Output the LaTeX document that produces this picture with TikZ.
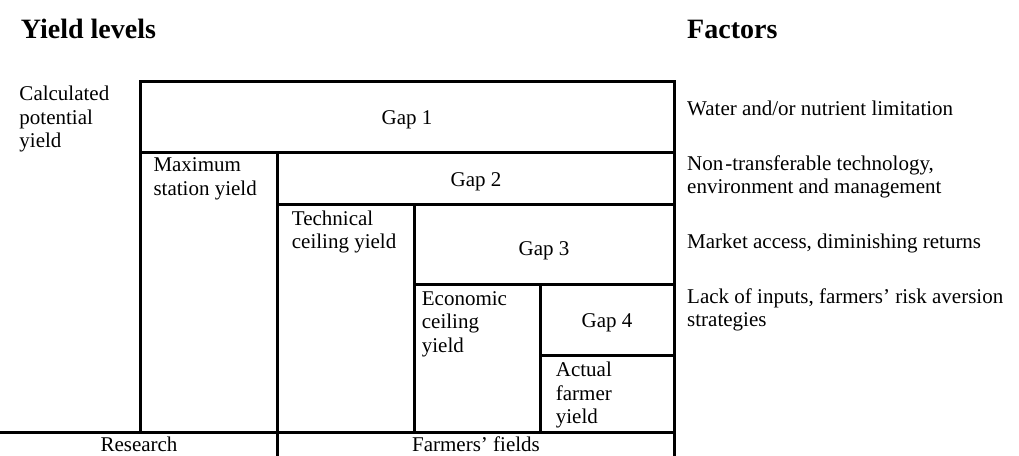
\documentclass[tikz,border=0pt]{standalone}
\usepackage{fontspec}
\setmainfont{Liberation Serif}
\newcommand{\mlines}[1]{\begin{tabular}[t]{@{}l@{}}#1\end{tabular}}
\begin{document}
\begin{tikzpicture}[x=1pt,y=-1pt,
  frame/.style={line width=3pt,line join=miter,line cap=rect},
  body/.style={inner sep=0pt,font=\fontsize{21}{23.5}\selectfont},
  lbl/.style={body,anchor=base west},
  gap/.style={body,anchor=base},
  title/.style={inner sep=0pt,anchor=base west,font=\fontsize{28}{32}\selectfont\bfseries}]
\useasboundingbox (0,0) rectangle (1019,455);
% frame
\draw[frame] (140,432) -- (140,81) -- (674,81) -- (674,455);
\draw[frame] (140,152) -- (674,152);
\draw[frame] (277.5,152) -- (277.5,455);
\draw[frame] (277.5,204.5) -- (674,204.5);
\draw[frame] (414,204.5) -- (414,432);
\draw[frame] (414,284.5) -- (674,284.5);
\draw[frame] (540.5,284.5) -- (540.5,432);
\draw[frame] (540.5,355.5) -- (674,355.5);
\draw[frame] (0,432) -- (674,432);
% titles
\node[title] (t1) at (20.7,38) {Yield levels};
\node[title] (t2) at (687,38) {Factors};
% yield levels
\node[lbl] (cpy) at (19.3,100.7) {\mlines{Calculated\\potential\\yield}};
\node[lbl] (msy) at (153.3,171.7) {\mlines{Maximum\\station yield}};
\node[lbl] (tcy) at (291.7,225) {\mlines{Technical\\ceiling yield}};
\node[lbl] (ecy) at (421.7,305) {\mlines{Economic\\ceiling\\yield}};
\node[lbl] (afy) at (555.7,376.7) {\mlines{Actual\\farmer\\yield}};
% gaps
\node[gap] (g1) at (407,124) {Gap 1};
\node[gap] (g2) at (476,186) {Gap 2};
\node[gap] (g3) at (544,255) {Gap 3};
\node[gap] (g4) at (607,327) {Gap 4};
% bottom row
\node[gap] (res) at (139,451.7) {Research};
\node[gap] (ff) at (476,451.7) {Farmers’ fields};
% factors
\node[lbl] (f1) at (687,115) {Water and/or nutrient limitation};
\node[lbl] (f2) at (687,170) {\mlines{Non\kern2pt-transferable technology,\\environment and management}};
\node[lbl] (f3) at (687,248) {Market access, diminishing returns};
\node[lbl] (f4) at (687,303) {\mlines{Lack of inputs, farmers’ risk aversion\\strategies}};
\end{tikzpicture}
\end{document}
